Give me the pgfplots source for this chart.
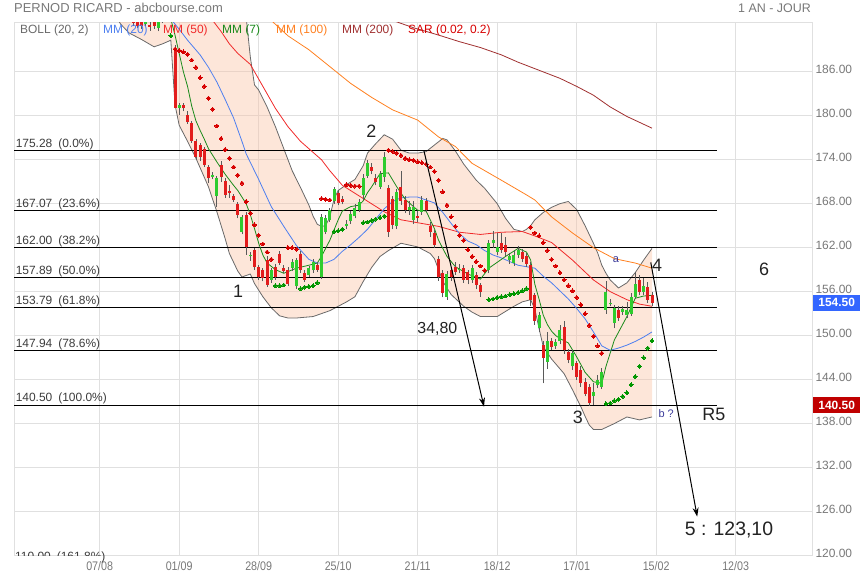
\documentclass[border=0pt]{standalone}
\usepackage{fontspec}
\setmainfont{Liberation Sans}
\newfontfamily\narrowfont{Liberation Sans}[FakeStretch=0.86]
\usepackage{pgfplots}
\pgfplotsset{compat=1.18}
\usetikzlibrary{arrows.meta}

\definecolor{gridc}{RGB}{224,224,224}
\definecolor{tickc}{RGB}{120,120,120}
\definecolor{peach}{RGB}{250,195,165}
\definecolor{bollc}{RGB}{105,105,105}
\definecolor{cred}{RGB}{226,28,28}
\definecolor{cgreen}{RGB}{46,204,46}
\definecolor{wickc}{RGB}{90,90,90}
\definecolor{sarred}{RGB}{215,0,0}
\definecolor{sargreen}{RGB}{0,150,0}
\definecolor{mmseven}{RGB}{26,138,26}
\definecolor{mmtwenty}{RGB}{77,127,240}
\definecolor{mmfifty}{RGB}{240,42,42}
\definecolor{mmhundred}{RGB}{255,128,32}
\definecolor{mmtwohundred}{RGB}{160,48,48}
\definecolor{annc}{RGB}{34,34,34}
\definecolor{smallblue}{RGB}{58,58,154}
\definecolor{boxblue}{RGB}{51,102,255}
\definecolor{boxred}{RGB}{192,0,0}
\definecolor{fibc}{RGB}{60,60,60}

\newcommand{\fs}[1]{\fontsize{#1}{#1}\selectfont}

\begin{document}
\begin{tikzpicture}
\path[use as bounding box] (0,0) rectangle (860bp,580bp);
\node[anchor=west, inner sep=0, text=tickc, font=\fs{13}] at (14bp,572bp) {PERNOD RICARD - abcbourse.com};
\node[anchor=east, inner sep=0, text=tickc, font=\fs{12.5}] at (811bp,572bp) {1 AN - JOUR};

\begin{axis}[
  at={(14bp,24.5bp)}, anchor=south west,
  scale only axis, width=798bp, height=532.8bp,
  xmin=-20.48, xmax=170.24, ymin=120, ymax=192.69,
  axis line style={draw=gridc, line width=1bp},
  xtick={0,19,38,57,76,95,114,133,152},
  xticklabels={07/08,01/09,28/09,25/10,21/11,18/12,17/01,15/02,12/03},
  ytick={120,126,...,186},
  yticklabel pos=right,
  yticklabel={\pgfmathprintnumber[fixed,fixed zerofill,precision=2,assume math mode=true]{\tick}},
  yticklabel style={anchor=west, yshift=2.5bp, text=tickc, font=\fs{12}},
  xticklabel style={text=tickc, font=\narrowfont\fs{12.5}, yshift=-2bp},
  major tick length=0pt,
  grid=major,
  major grid style={draw=gridc, line width=1bp},
  clip mode=individual,
  unbounded coords=jump,
]

% Bollinger (20,2): band area (upper forward, lower back), then both edges
\addplot[fill=peach, fill opacity=0.42, draw=none] coordinates {
(4,200)(34,200)(35,193.5)(36,188)(37,184.2)(38,183.5)(40,181.2)(42,178.5)(44,175.5)(46,172.5)(48,170.2)(50,167.8)(51,166.3)(52,165.2)(53,164.9)(54,165)(55,166.2)(56,168.6)(57,169.8)(59,170.6)(61,171.3)(63,173.2)(64,174.9)(66,176.2)(68,177.4)(70,176.8)(72,175.3)(74,174.9)(76,174.9)(78,175.1)(80,176)(82,176.9)(83,176.7)(85,175.2)(87,173.4)(90,171.2)(92,170.1)(95,168)(97,166)(99,164.5)(101,164.2)(102,164.5)(103,165)(104,165.8)(106,166.8)(108,167.5)(110,168)(112,168.3)(114,167.2)(116,165)(118,162.6)(119,161.3)(120,159.6)(121,158.5)(122,157.6)(124,156.5)(126,157.2)(128,158.6)(130,160.3)(132,161.9)
(132,138.9)(129,138.5)(126,138.9)(123,138)(120,137.2)(118,137.2)(117,137.8)(116,139)(115,140.3)(113,142.6)(111,144.8)(108,146.8)(106,148.5)(105,151)(104,153.6)(103,154.9)(101,154.6)(99,154)(95,152.6)(91,152.6)(89,153.2)(87,154)(84,155.6)(82,157.4)(81,159)(80,160.5)(79,161.2)(76,162.1)(72,162.6)(69,161.6)(67,160.8)(65,159.3)(63,157.4)(61,155.3)(59,154.6)(57,154)(55,153.4)(53,153)(51,152.6)(49,152.5)(47,152.4)(45,152.4)(43,152.7)(41,153.8)(39,155.3)(37,157.1)(36,158.4)(35,158.2)(34,158)(33,158.8)(31,161.2)(30,163.2)(28,166.9)(26,170.3)(23,174.2)(21,176.5)(19,178.7)(18,181.5)(17,190.3)(15,189.8)(13,189.4)(10,190.4)(7,191.3)(5,192.5)(4,193.5)};
\addplot[draw=bollc, line width=0.8bp] coordinates {
(4,200)(34,200)(35,193.5)(36,188)(37,184.2)(38,183.5)(40,181.2)(42,178.5)(44,175.5)(46,172.5)(48,170.2)(50,167.8)(51,166.3)(52,165.2)(53,164.9)(54,165)(55,166.2)(56,168.6)(57,169.8)(59,170.6)(61,171.3)(63,173.2)(64,174.9)(66,176.2)(68,177.4)(70,176.8)(72,175.3)(74,174.9)(76,174.9)(78,175.1)(80,176)(82,176.9)(83,176.7)(85,175.2)(87,173.4)(90,171.2)(92,170.1)(95,168)(97,166)(99,164.5)(101,164.2)(102,164.5)(103,165)(104,165.8)(106,166.8)(108,167.5)(110,168)(112,168.3)(114,167.2)(116,165)(118,162.6)(119,161.3)(120,159.6)(121,158.5)(122,157.6)(124,156.5)(126,157.2)(128,158.6)(130,160.3)(132,161.9)};
\addplot[draw=bollc, line width=0.8bp] coordinates {
(4,193.5)(5,192.5)(7,191.3)(10,190.4)(13,189.4)(15,189.8)(17,190.3)(18,181.5)(19,178.7)(21,176.5)(23,174.2)(26,170.3)(28,166.9)(30,163.2)(31,161.2)(33,158.8)(34,158)(35,158.2)(36,158.4)(37,157.1)(39,155.3)(41,153.8)(43,152.7)(45,152.4)(47,152.4)(49,152.5)(51,152.6)(53,153)(55,153.4)(57,154)(59,154.6)(61,155.3)(63,157.4)(65,159.3)(67,160.8)(69,161.6)(72,162.6)(76,162.1)(79,161.2)(80,160.5)(81,159)(82,157.4)(84,155.6)(87,154)(89,153.2)(91,152.6)(95,152.6)(99,154)(101,154.6)(103,154.9)(104,153.6)(105,151)(106,148.5)(108,146.8)(111,144.8)(113,142.6)(115,140.3)(116,139)(117,137.8)(118,137.2)(120,137.2)(123,138)(126,138.9)(129,138.5)(132,138.9)};

% Fibonacci levels
\addplot[black, line width=1bp] coordinates {
(-20.48,175.28)(147.5,175.28)(147.5,nan)
(-20.48,167.07)(147.5,167.07)(147.5,nan)
(-20.48,162.00)(147.5,162.00)(147.5,nan)
(-20.48,157.89)(147.5,157.89)(147.5,nan)
(-20.48,153.79)(147.5,153.79)(147.5,nan)
(-20.48,147.94)(147.5,147.94)(147.5,nan)
(-20.48,140.50)(147.5,140.50)};

% moving averages
\addplot[mmtwohundred, line width=0.8bp] coordinates {
(70,193)(75,192)(81,191)(86,190.1)(91,189.3)(96,188.3)(100,187.3)(105,186.2)(110,185.1)(114,184)(118,182.8)(122,181.2)(126,179.9)(132,178.3)};
\addplot[mmhundred, line width=0.8bp] coordinates {
(41,193)(45,190.9)(50,189)(55,186.7)(60,184.4)(65,182.5)(70,180.8)(76,179.4)(81,177.1)(85,175.8)(89,173.5)(96,171.2)(102,169.2)(104,168.5)(108,166.2)(113,164)(118,162)(123,160.5)(128,159.9)(132,159.2)};
\addplot[mmfifty, line width=0.8bp] coordinates {
(27,193)(29,191.5)(31,189.8)(33,188.5)(36,187)(39,184)(42,181)(45,178.5)(48,176.5)(51,175)(53,174)(55,172.5)(58,170.5)(63,168.7)(68,166.9)(72,165.8)(77,165.3)(81,164.9)(86,164.1)(91,163.8)(96,164.1)(101,164.2)(104,163.6)(108,162.7)(113,160.3)(118,157.6)(122,156)(126,154.9)(129,154.3)(132,154)};
\addplot[mmtwenty, line width=0.8bp] coordinates {
(17,193.2)(19,191.8)(21,190.3)(24,188.3)(26,186.6)(28,184.6)(30,182.2)(32,179.7)(34,176.5)(35,174.8)(38,171.3)(41,167.6)(44,164.9)(47,162.3)(50,160.4)(52,159.9)(54,159.9)(56,160.4)(58,161.5)(60,162.4)(62,163.4)(64,164.5)(66,165.9)(68,167.3)(70,168.3)(72,168.8)(74,168.9)(76,168.9)(78,168.5)(80,168.1)(82,166.8)(84,165.3)(86,163.9)(88,162.9)(90,162.4)(92,161.6)(94,161)(96,160.6)(98,160.1)(100,159.6)(102,159.4)(104,159.2)(106,158.1)(108,157.2)(110,156.1)(112,155)(114,153.7)(116,152.3)(118,150.5)(120,148.6)(122,148)(124,148.3)(126,148.7)(128,149.2)(130,149.8)(132,150.5)};
\addplot[mmseven, line width=0.8bp] coordinates {
(16,194.2)(17,193.2)(18,191)(19,188.5)(20,186)(21,184)(22,181.3)(23,179.3)(24,178)(25,176.8)(26,175.5)(28,173.7)(30,172)(32,170.5)(33,169.8)(35,168)(36,166.5)(37,164.6)(38,162.6)(39,161)(40,159.9)(42,159)(44,158.5)(47,159.2)(50,159.6)(52,159.9)(53,160.8)(55,163)(57,165.8)(58,167)(60,167.6)(62,167.8)(63,168.4)(64,169.5)(65,170.3)(67,172.1)(69,172.2)(71,170.3)(73,168.6)(76,167.1)(78,167)(80,164.6)(81,163)(83,160.8)(85,159.4)(88,158.4)(91,157.7)(93,159.2)(97,160.8)(100,161.9)(102,161.4)(103,160.3)(104,157)(105,155)(106,152.8)(107,151.5)(108,150.6)(109,150)(110,149.6)(112,149)(114,147.1)(116,145)(118,143.7)(120,143.5)(121,145.8)(123,149.4)(126,152.6)(128,155.1)(130,155.4)(132,155.5)};

% candle wicks (low, high)
\addplot[wickc, line width=0.8bp] coordinates {
(8,192.2)(8,194.5)(8,nan)(9,191.9)(9,194)(9,nan)(10,191.8)(10,193.8)(10,nan)(11,192.3)(11,194)(11,nan)
(12,191.6)(12,193)(12,nan)(13,191.8)(13,193.5)(13,nan)(14,191.5)(14,193.4)(14,nan)(15,192.6)(15,194.5)(15,nan)
(16,193.3)(16,195)(16,nan)(17,193.2)(17,195)(17,nan)(18,181)(18,189.6)(18,nan)(19,180.1)(19,181.8)(19,nan)
(20,180.6)(20,181.7)(20,nan)(21,178.9)(21,180.6)(21,nan)(22,176.3)(22,179.3)(22,nan)(23,174)(23,176.8)(23,nan)
(24,173.8)(24,176.3)(24,nan)(25,173)(25,175.7)(25,nan)(26,170.8)(26,173.3)(26,nan)(27,171.3)(27,172.3)(27,nan)
(28,167.6)(28,171.8)(28,nan)(29,171)(29,173.8)(29,nan)(30,168.8)(30,171.5)(30,nan)(31,168.8)(31,170.5)(31,nan)
(32,168.2)(32,169.3)(32,nan)(33,166)(33,168.2)(33,nan)(34,163.8)(34,166.5)(34,nan)(35,161)(35,166.8)(35,nan)
(36,160.2)(36,161.4)(36,nan)(37,159)(37,162)(37,nan)(38,157.6)(38,159.6)(38,nan)(39,157.4)(39,159.2)(39,nan)
(40,156.6)(40,160.8)(40,nan)(41,157.2)(41,159.2)(41,nan)(42,157.6)(42,159.8)(42,nan)(43,159.6)(43,161.6)(43,nan)
(44,158.5)(44,159.6)(44,nan)(45,156.8)(45,159.3)(45,nan)(46,158.8)(46,160.4)(46,nan)(47,156.4)(47,160.6)(47,nan)
(48,158.6)(48,161.6)(48,nan)(49,157.3)(49,158.9)(49,nan)(50,158)(50,159.5)(50,nan)(51,158.6)(51,160.4)(51,nan)
(52,158.7)(52,160)(52,nan)(53,157.7)(53,166.6)(53,nan)(54,163.8)(54,166.4)(54,nan)(55,165.5)(55,167.4)(55,nan)
(56,168)(56,170.3)(56,nan)(57,167.8)(57,169.8)(57,nan)(58,167.9)(58,169)(58,nan)(59,164.5)(59,165.8)(59,nan)
(60,165.2)(60,167)(60,nan)(61,166)(61,168)(61,nan)(62,166.8)(62,168.6)(62,nan)(63,168.5)(63,172)(63,nan)
(64,171.5)(64,174)(64,nan)(65,172)(65,173.6)(65,nan)(66,170.5)(66,172)(66,nan)(67,170)(67,172.5)(67,nan)
(68,171)(68,175.1)(68,nan)(69,163.5)(69,170.5)(69,nan)(70,164.5)(70,169)(70,nan)(71,164.5)(71,170)(71,nan)
(72,167.8)(72,172.5)(72,nan)(73,166.7)(73,169)(73,nan)(74,166.5)(74,168.3)(74,nan)(75,165.2)(75,168.3)(75,nan)
(76,165.5)(76,167)(76,nan)(77,166.5)(77,169)(77,nan)(78,166.8)(78,168.8)(78,nan)(79,163.5)(79,165.5)(79,nan)
(80,162)(80,164.4)(80,nan)(81,157.5)(81,160.8)(81,nan)(82,155.2)(82,159)(82,nan)(83,154.9)(83,158.8)(83,nan)
(84,157.5)(84,159.3)(84,nan)(85,158.3)(85,160)(85,nan)(86,158.5)(86,159.8)(86,nan)(87,157.2)(87,159.6)(87,nan)
(88,157)(88,159)(88,nan)(89,157.2)(89,159.6)(89,nan)(90,156.3)(90,158.7)(90,nan)(91,155.3)(91,157.2)(91,nan)
(93,158.5)(93,163)(93,nan)(94,162)(94,164.3)(94,nan)(95,161)(95,164)(95,nan)(96,161.3)(96,164)(96,nan)
(97,160.8)(97,163.5)(97,nan)(98,159.8)(98,161.3)(98,nan)(99,159.5)(99,161.5)(99,nan)(100,160.6)(100,162.2)(100,nan)
(101,160)(101,161.8)(101,nan)(102,159.4)(102,161.3)(102,nan)(103,154)(103,160)(103,nan)(104,151.5)(104,155.8)(104,nan)
(105,150.5)(105,153.2)(105,nan)(106,143.5)(106,149.2)(106,nan)(107,145.5)(107,150.5)(107,nan)(108,148)(108,149.7)(108,nan)
(109,148.2)(109,149.5)(109,nan)(110,148.8)(110,151.5)(110,nan)(111,147.5)(111,152)(111,nan)(112,146.2)(112,148.2)(112,nan)
(113,145.3)(113,148)(113,nan)(114,144)(114,146.6)(114,nan)(115,143)(115,145.8)(115,nan)(116,141.7)(116,144.2)(116,nan)
(117,140.4)(117,143.4)(117,nan)(118,140.6)(118,143.5)(118,nan)(119,142.8)(119,144.6)(119,nan)(120,142.7)(120,145.6)(120,nan)
(121,153)(121,157.4)(121,nan)(122,154)(122,155)(122,nan)(123,151)(123,154.2)(123,nan)(124,152)(124,154)(124,nan)
(125,152.8)(125,154)(125,nan)(126,152.4)(126,154.6)(126,nan)(127,152.7)(127,155.8)(127,nan)(128,155)(128,158.7)(128,nan)
(129,155.5)(129,158.3)(129,nan)(130,155.6)(130,157.8)(130,nan)(131,154.4)(131,157.3)(131,nan)(132,154)(132,156)};

% falling candles: open, close
\addplot[cred, line width=3bp, line cap=butt] coordinates {
(8,194)(8,192.6)(8,nan)(9,193.5)(9,192.3)(9,nan)(10,193.2)(10,192.2)(10,nan)(12,192.4)(12,192.1)(12,nan)
(13,193)(13,192.2)(13,nan)(17,194.5)(17,193.8)(17,nan)(18,189.2)(18,181.1)(18,nan)(20,181.4)(20,181)(20,nan)
(21,180.1)(21,179.1)(21,nan)(22,179)(22,176.5)(22,nan)(23,176.5)(23,174.4)(23,nan)(24,176)(24,174.4)(24,nan)
(25,175.5)(25,173.3)(25,nan)(26,173)(26,171.5)(26,nan)(29,173.3)(29,171.7)(29,nan)(30,171.1)(30,169.2)(30,nan)
(31,169.7)(31,169.5)(31,nan)(32,169)(32,168.5)(32,nan)(33,167.9)(33,166.5)(33,nan)(35,166.4)(35,162.1)(35,nan)
(37,161.7)(37,159.4)(37,nan)(38,159.3)(38,158)(38,nan)(39,158.9)(39,157.8)(39,nan)(40,160.3)(40,156.9)(40,nan)
(42,159.3)(42,158)(42,nan)(43,161.2)(43,159.9)(43,nan)(44,159.2)(44,158.8)(44,nan)(45,158.9)(45,157.1)(45,nan)
(48,161.2)(48,158.9)(48,nan)(49,158.5)(49,157.6)(49,nan)(52,159.7)(52,159)(52,nan)(57,169.4)(57,168.1)(57,nan)
(58,168.6)(58,168.2)(58,nan)(65,173)(65,172.4)(65,nan)(66,171.5)(66,171)(66,nan)(69,170.1)(69,164.2)(69,nan)
(70,168.7)(70,165.1)(70,nan)(72,170.3)(72,168.3)(72,nan)(73,168.5)(73,167.1)(73,nan)(76,166.3)(76,166.1)(76,nan)
(78,168.4)(78,167.1)(78,nan)(79,164.9)(79,164.2)(79,nan)(80,164)(80,162.4)(80,nan)(81,160.5)(81,158)(81,nan)
(82,158.5)(82,155.8)(82,nan)(84,158.9)(84,158)(84,nan)(85,159.4)(85,158.7)(85,nan)(87,159.2)(87,157.6)(87,nan)
(88,158.7)(88,157.6)(88,nan)(90,158.3)(90,156.9)(90,nan)(91,156.9)(91,156)(91,nan)(96,162.6)(96,161.7)(96,nan)
(97,162.4)(97,161.4)(97,nan)(101,161.4)(101,160.5)(101,nan)(102,160.8)(102,159.8)(102,nan)(103,159.6)(103,154.8)(103,nan)
(104,155.5)(104,152)(104,nan)(106,148.7)(106,146.9)(106,nan)(108,149.2)(108,148.5)(108,nan)(111,151.2)(111,148)(111,nan)
(112,147.8)(112,146.7)(112,nan)(114,146.2)(114,144.4)(114,nan)(115,145.3)(115,143.5)(115,nan)(116,143.7)(116,142.1)(116,nan)
(117,143)(117,140.8)(117,nan)(124,153.5)(124,152.4)(124,nan)(129,157.6)(129,156)(129,nan)(131,156.6)(131,154.9)(131,nan)
(132,155.5)(132,154.5)};

% rising candles: open, close
\addplot[cgreen, line width=3bp, line cap=butt] coordinates {
(11,192.5)(11,193.5)(11,nan)(14,192)(14,193)(14,nan)(15,193)(15,194)(15,nan)(16,194)(16,194.5)(16,nan)
(19,181.1)(19,181.5)(19,nan)(27,171.7)(27,171.9)(27,nan)(28,169)(28,171.5)(28,nan)(34,164.2)(34,166.2)(34,nan)
(36,160.8)(36,161)(36,nan)(41,157.6)(41,158.9)(41,nan)(46,159.2)(46,160.1)(46,nan)(47,156.7)(47,160.3)(47,nan)
(50,158.3)(50,159.2)(50,nan)(51,158.9)(51,160.1)(51,nan)(53,158)(53,166.2)(53,nan)(54,164.2)(54,166)(54,nan)
(55,165.8)(55,167.1)(55,nan)(56,168.3)(56,170)(56,nan)(59,165)(59,165.2)(59,nan)(60,165.6)(60,166.6)(60,nan)
(61,166.3)(61,167.4)(61,nan)(62,167.2)(62,168.2)(62,nan)(63,169.2)(63,171.5)(63,nan)(64,171.8)(64,173.5)(64,nan)
(67,170.3)(67,172.1)(67,nan)(68,171.7)(68,174.4)(68,nan)(71,164.9)(71,169.6)(71,nan)(74,167.1)(74,167.6)(74,nan)
(75,165.8)(75,167.6)(75,nan)(77,166.9)(77,168.5)(77,nan)(83,155.3)(83,158.4)(83,nan)(86,158.9)(86,159.1)(86,nan)
(89,157.6)(89,159.2)(89,nan)(93,158.9)(93,162.6)(93,nan)(94,162.6)(94,163)(94,nan)(95,161.4)(95,162.1)(95,nan)
(98,160.3)(98,160.8)(98,nan)(99,159.9)(99,161)(99,nan)(100,161)(100,161.7)(100,nan)(105,151)(105,152.8)(105,nan)
(107,146.4)(107,149.2)(107,nan)(109,148.6)(109,149.1)(109,nan)(110,149.2)(110,150.8)(110,nan)(113,145.8)(113,147.6)(113,nan)
(118,141.7)(118,142.3)(118,nan)(119,143.2)(119,143.9)(119,nan)(120,143)(120,145.1)(120,nan)(121,153.5)(121,156)(121,nan)
(122,154.3)(122,154.5)(122,nan)(123,151.7)(123,153.7)(123,nan)(125,153.2)(125,153.6)(125,nan)(126,152.8)(126,153.5)(126,nan)
(127,153)(127,155.3)(127,nan)(128,155.3)(128,157.1)(128,nan)(130,156)(130,156.7)};

% parabolic SAR (0.02, 0.2)
\addplot[only marks, color=sarred, mark=*, mark size=1.95bp, mark options={solid, fill=sarred, draw=sarred, line width=0pt}] coordinates {
(18,189.1)(19,188.9)(20,188.7)(21,188.4)(22,187.6)(23,186.6)(24,185.2)(25,184.0)(26,182.4)(27,180.9)(28,178.6)(29,176.9)(30,175.4)(31,174.2)(32,173.0)(33,171.9)(34,170.8)(35,168.3)(36,166.7)(37,165.1)(38,163.7)(39,162.5)(40,161.4)(41,160.4)
(45,162.0)(46,162.0)(47,161.8)(53,168.7)(54,168.6)(55,168.5)(59,170.6)(60,170.5)(61,170.4)(62,170.4)
(69,175.3)(70,175.1)(71,174.9)(72,174.6)(73,174.2)(74,174.0)(75,173.9)(76,173.7)(77,173.6)(78,173.4)(79,173.0)(80,172.4)(81,171.2)(82,169.6)(83,167.8)(84,166.2)(85,164.9)(86,163.7)(87,163.0)(88,161.7)(89,160.8)(90,160.1)(91,159.5)(92,158.9)
(103,164.8)(104,164.0)(105,163.6)(106,162.7)(107,161.6)(108,160.4)(109,159.5)(110,158.6)(111,157.6)(112,156.8)(113,156.1)(114,155.2)(115,154.2)(116,153.0)(117,151.4)(118,149.9)(119,148.6)(120,147.6)};
\addplot[only marks, color=sargreen, mark=*, mark size=1.95bp, mark options={solid, fill=sargreen, draw=sargreen, line width=0pt}] coordinates {
(17,190.9)(42,156.8)(43,156.8)(44,156.9)(48,156.4)(49,156.6)(50,156.7)(51,156.8)(52,157.2)(56,164.2)(57,164.3)(58,164.5)
(63,165.4)(64,165.5)(65,165.7)(66,165.9)(67,166.1)(68,166.3)
(93,154.9)(94,155.0)(95,155.2)(96,155.3)(97,155.4)(98,155.6)(99,155.7)(100,155.9)(101,156.1)(102,156.4)
(121,140.7)(122,140.8)(123,141.1)(124,141.3)(125,141.7)(126,142.2)(127,143.3)(128,144.4)(129,145.8)(130,147.0)(131,148.3)(132,149.3)};

% projections
\addplot[black, line width=1bp, -{Stealth[length=9bp,width=6bp]}] coordinates {(77.5,175.2)(91.85,140.3)};
\addplot[black, line width=1bp, -{Stealth[length=9bp,width=6bp]}] coordinates {(131.7,160.0)(142.8,125.3)};

% Fibonacci labels
\begin{scope}[every node/.style={anchor=south west, inner sep=0.6bp, text=fibc, font=\fs{12}}]
\node at (axis cs:-20.24,175.28) {175.28\hspace{6bp}(0.0\%)};
\node at (axis cs:-20.24,167.07) {167.07\hspace{6bp}(23.6\%)};
\node at (axis cs:-20.24,162.00) {162.00\hspace{6bp}(38.2\%)};
\node at (axis cs:-20.24,157.89) {157.89\hspace{6bp}(50.0\%)};
\node at (axis cs:-20.24,153.79) {153.79\hspace{6bp}(61.8\%)};
\node at (axis cs:-20.24,147.94) {147.94\hspace{6bp}(78.6\%)};
\node at (axis cs:-20.24,140.50) {140.50\hspace{6bp}(100.0\%)};
\node[anchor=base west, inner sep=0] at (axis cs:-20.24,119.26) {110.00\hspace{6bp}(161.8\%)};
\end{scope}

% indicator legend
\begin{scope}[every node/.style={anchor=west, inner sep=0, font=\fs{12}}]
\node[text=bollc] at (axis cs:-19.05,191.69) {BOLL (20, 2)};
\node[text=mmtwenty] at (axis cs:0.79,191.69) {MM (20)};
\node[text=mmfifty] at (axis cs:15.13,191.69) {MM (50)};
\node[text=mmseven] at (axis cs:29.23,191.69) {MM (7)};
\node[text=mmhundred] at (axis cs:42.14,191.69) {MM (100)};
\node[text=mmtwohundred] at (axis cs:57.91,191.69) {MM (200)};
\node[text=sarred] at (axis cs:73.69,191.69) {SAR (0.02, 0.2)};
\end{scope}

% wave labels
\begin{scope}[every node/.style={inner sep=0, text=annc, font=\fs{18}}]
\node at (axis cs:33.1,156.0) {1};
\node at (axis cs:64.9,177.9) {2};
\node at (axis cs:114.3,138.9) {3};
\node at (axis cs:133.2,159.6) {4};
\node at (axis cs:158.8,159.1) {6};
\node at (axis cs:146.8,139.2) {R5};
\node[font=\fs{16}] at (axis cs:80.7,150.9) {34,80};
\node[font=\fs{19.5}] at (axis cs:150.4,123.5) {5 : 123,10};
\node[text=smallblue, font=\fs{11}] at (axis cs:123.4,160.4) {a};
\node[text=smallblue, font=\fs{11}] at (axis cs:135.4,139.4) {b ?};
\end{scope}

% last values on the price scale
\node[anchor=west, fill=boxblue, text=white, inner sep=0, minimum width=47bp, minimum height=16bp, font=\bfseries\fs{12}, xshift=1bp] at (axis cs:170.24,154.5) {154.50};
\node[anchor=west, fill=boxred, text=white, inner sep=0, minimum width=47bp, minimum height=16bp, font=\bfseries\fs{12}, xshift=1bp] at (axis cs:170.24,140.5) {140.50};
\end{axis}
% hide the part of the 110.00 label that falls below the plot
\fill[white] (14.5bp,15bp) rectangle (84bp,24bp);
\fill[white] (84bp,19bp) rectangle (102bp,24bp);
\end{tikzpicture}
\end{document}
